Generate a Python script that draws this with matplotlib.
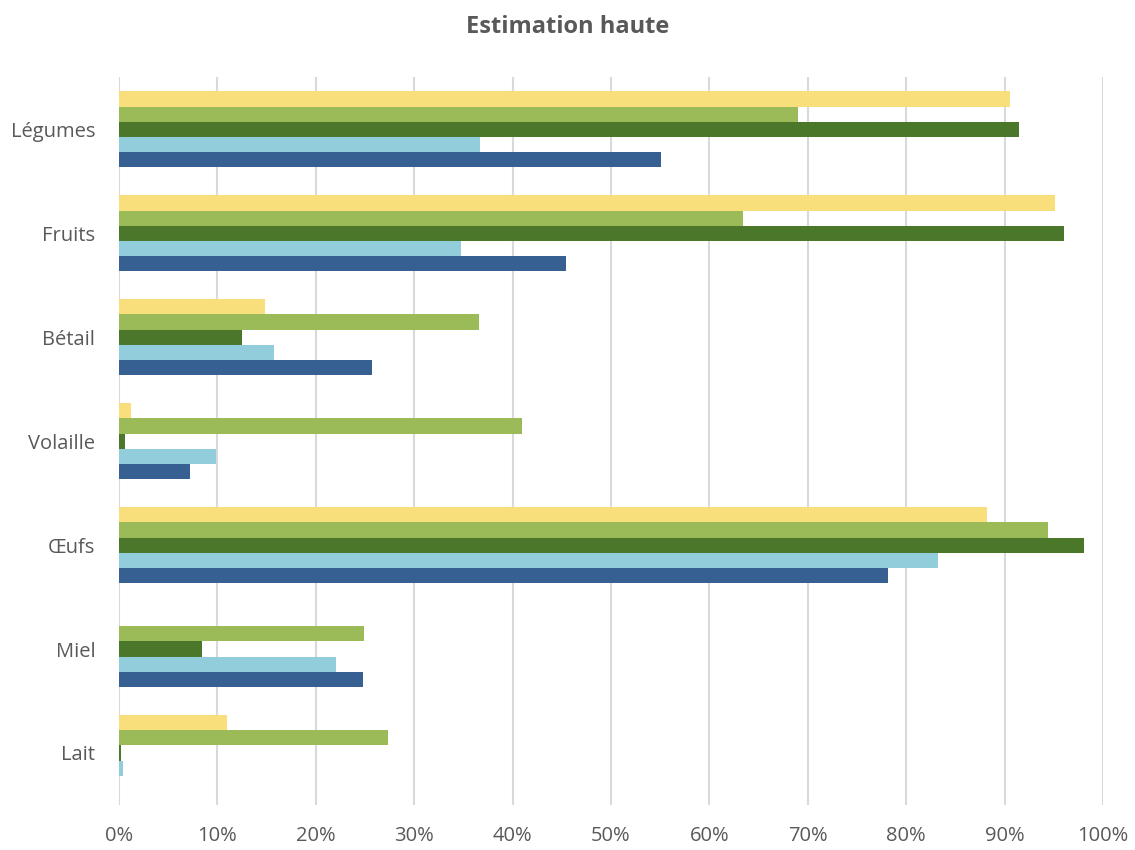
import numpy as np
import matplotlib.pyplot as plt
from matplotlib.ticker import PercentFormatter

# categories (top to bottom)
categories = ['Légumes', 'Fruits', 'Bétail', 'Volaille', 'Œufs', 'Miel', 'Lait']

# series in percent, drawn from bottom (s1) to top (s5) inside each group
s1 = [55.1, 45.4, 25.7, 7.2, 78.2, 24.8, 0.0]     # bleu foncé
s2 = [36.7, 34.8, 15.8, 9.9, 83.2, 22.1, 0.4]     # bleu clair
s3 = [91.5, 96.0, 12.5, 0.6, 98.1, 8.4, 0.2]      # vert foncé
s4 = [69.0, 63.4, 36.6, 41.0, 94.4, 24.9, 27.3]   # vert clair
s5 = [90.5, 95.1, 14.8, 1.2, 88.2, 0.0, 11.0]     # jaune

series = [s1, s2, s3, s4, s5]
colors = ['#376092', '#92CDDC', '#4A7729', '#9BBB59', '#F9DF7B']

plt.rcParams['font.family'] = ['Open Sans', 'DejaVu Sans']

fig = plt.figure(figsize=(11.35, 8.5), dpi=100)
ax = fig.add_axes([0.1048, 0.053, 0.867, 0.856])

y = np.arange(len(categories))
h = 0.146
for j, (vals, c) in enumerate(zip(series, colors)):
    ax.barh(y + (2 - j) * h, vals, height=h, color=c, zorder=3)

ax.set_ylim(len(categories) - 0.5, -0.5)
ax.set_xlim(0, 100)
ax.set_yticks(y)
ax.set_yticklabels(categories)
ax.set_xticks(np.arange(0, 101, 10))
ax.xaxis.set_major_formatter(PercentFormatter(decimals=0))
ax.tick_params(axis='both', length=0, labelsize=14.5, colors='#595959')
ax.tick_params(axis='x', pad=15)
ax.tick_params(axis='y', pad=17)
ax.grid(axis='x', color='#D9D9D9', linewidth=1.5, zorder=0)
for s in ax.spines.values():
    s.set_visible(False)

fig.text(0.5, 0.968, 'Estimation haute', ha='center', va='center',
         fontsize=17, fontweight='bold', color='#595959')

fig.savefig('out.png', dpi=100)
